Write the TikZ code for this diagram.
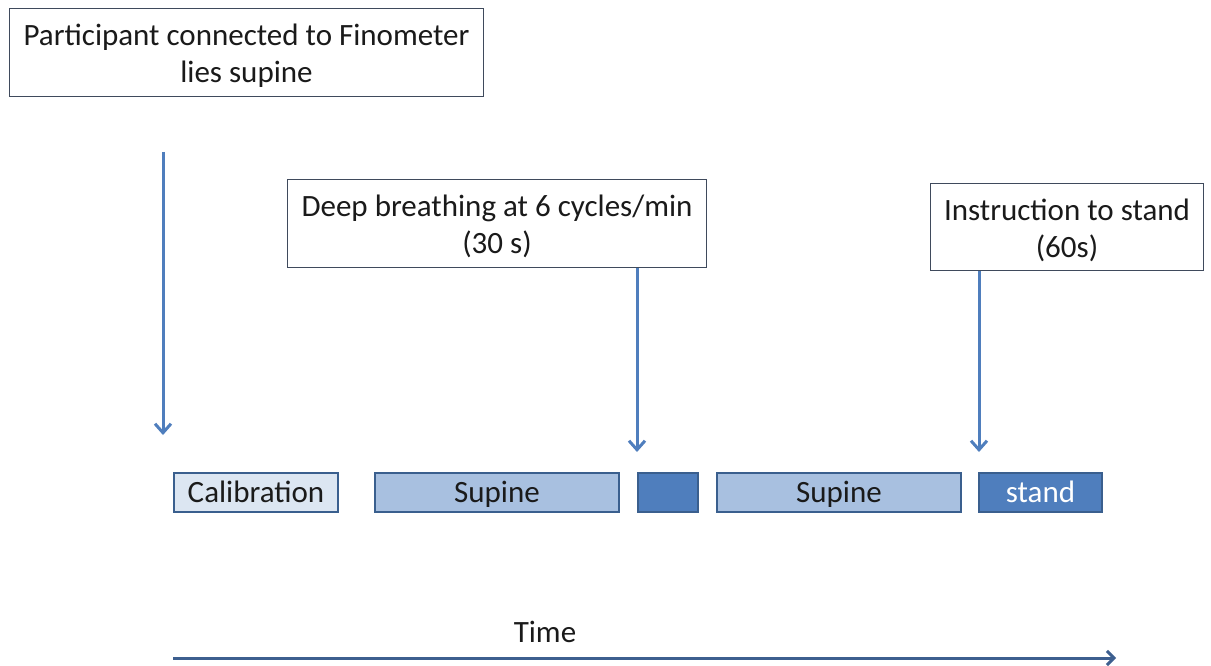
\documentclass[tikz,border=0pt]{standalone}
\usepackage{fontspec}
\setmainfont{Carlito}
\usetikzlibrary{arrows.meta}

\definecolor{boxline}{HTML}{3F4A5C}
\definecolor{barline}{HTML}{3A5F8E}
\definecolor{arrowblue}{HTML}{4F7EBD}
\definecolor{timeblue}{HTML}{3D5F8F}
\definecolor{calfill}{HTML}{DCE6F2}
\definecolor{supfill}{HTML}{A8C0E0}
\definecolor{darkfill}{HTML}{4F7EBD}
\definecolor{txt}{HTML}{1A1A1A}

\newcommand{\boxtext}[2]{\raisebox{-3pt}[\height][\depth]{\parbox{#1}{\centering #2}}}

\tikzset{
  infobox/.style={draw=boxline, line width=1.8pt, fill=white, align=center,
    font=\fontsize{31}{37}\selectfont, text=txt, inner sep=0pt},
  phase/.style={draw=barline, line width=2.2pt, minimum height=39pt, inner sep=0pt,
    text height=19pt, text depth=0pt,
    font=\fontsize{31}{36}\selectfont, text=txt},
  marker/.style={draw=arrowblue, line width=3pt,
    -{Straight Barb[length=9pt, width=16pt, line width=3pt]}},
  timeline/.style={draw=timeblue, line width=3pt,
    -{Straight Barb[length=7pt, width=14pt, line width=3pt]}}
}

\begin{document}
\begin{tikzpicture}[x=1pt, y=-1pt]
  \useasboundingbox (0,0) rectangle (1211,666);

  % event boxes
  \node[infobox, minimum width=474pt, minimum height=88pt] (connect) at (246.5,52.5)
    {\boxtext{470pt}{Participant connected to Finometer\\lies supine}};
  \node[infobox, minimum width=419pt, minimum height=88pt] (breath) at (497,223.5)
    {\boxtext{415pt}{Deep breathing at 6 cycles/min\\(30 s)}};
  \node[infobox, minimum width=273pt, minimum height=87pt] (instr) at (1067,227)
    {\boxtext{269pt}{Instruction to stand\\(60s)}};

  % protocol phases
  \node[phase, fill=calfill, minimum width=164pt] (calib) at (256,492.5) {Calibration};
  \node[phase, fill=supfill, minimum width=244pt] (supA) at (497,492.5) {Supine};
  \node[phase, fill=darkfill, minimum width=60pt] (deep) at (668,492.5) {};
  \node[phase, fill=supfill, minimum width=244pt] (supB) at (839,492.5) {Supine};
  \node[phase, fill=darkfill, minimum width=123pt, text=white] (stand) at (1040.5,492.5) {stand};

  % markers
  \coordinate (startTop) at (163,152);
  \coordinate (startTip) at (163,435);
  \coordinate (breathTip) at (637,452);
  \coordinate (standTip) at (979,452);
  \draw[marker] (startTop) -- (startTip);
  \draw[marker] (breath.south -| breathTip) -- (breathTip);
  \draw[marker] (instr.south -| standTip) -- (standTip);

  % time axis
  \node[font=\fontsize{31}{36}\selectfont, text=txt] (timelbl) at (545,632) {Time};
  \coordinate (tStart) at (173,658);
  \coordinate (tEnd) at (1116,658);
  \draw[timeline] (tStart) -- (tEnd);
\end{tikzpicture}
\end{document}
